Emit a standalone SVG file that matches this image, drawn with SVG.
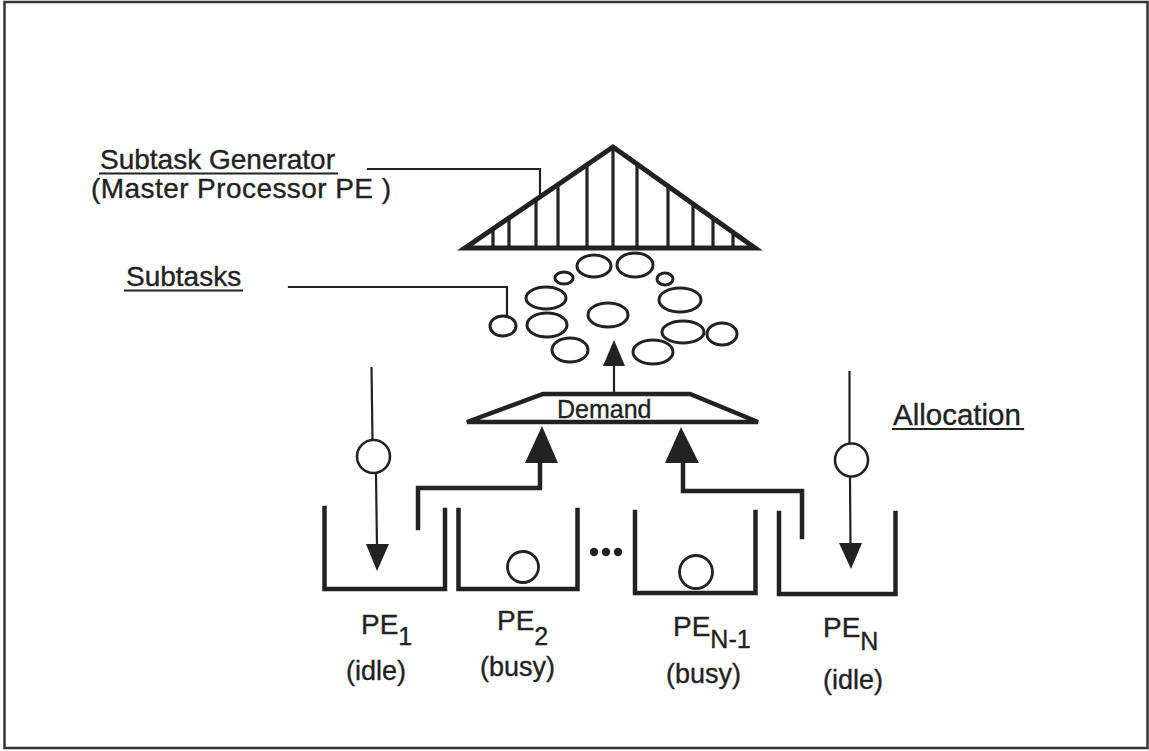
<svg xmlns="http://www.w3.org/2000/svg" width="1149" height="751" viewBox="0 0 1149 751">
<style>
  .t { font-family: "Liberation Sans", Arial, Helvetica, sans-serif; fill: #222; stroke: #222; stroke-width: 0.35; }
  .ln { stroke: #222; fill: none; stroke-linecap: square; }
  .thin { stroke-width: 2.2; }
  .med { stroke-width: 3.2; }
  .thick { stroke-width: 4.5; }
  .ell { stroke: #222; stroke-width: 3; fill: #fff; }
  .ah { fill: #222; stroke: none; }
  .sub { font-size: 25px; }
</style>
<rect x="0" y="0" width="1149" height="751" fill="#fff"/>
<g id="frame">
  <rect x="4.5" y="2" width="1143" height="746" fill="none" stroke="#333" stroke-width="2.5"/>
</g>

<g id="labels">
  <text class="t" x="100" y="169" font-size="28">Subtask Generator</text>
  <line class="ln thin" x1="100" y1="173.5" x2="337" y2="173.5" stroke-linecap="butt"/>
  <text class="t" x="91" y="198" font-size="28" textLength="300" lengthAdjust="spacing">(Master Processor PE )</text>
  <text class="t" x="126" y="286" font-size="28">Subtasks</text>
  <line class="ln thin" x1="125" y1="290.5" x2="242" y2="290.5" stroke-linecap="butt"/>
  <text class="t" x="893" y="425" font-size="29.5">Allocation</text>
  <line class="ln thin" x1="893" y1="429" x2="1023" y2="429" stroke-linecap="butt"/>
</g>

<g id="generator">
  <polygon points="613,147 465,248 755,248" fill="none" stroke="#222" stroke-width="5" stroke-linejoin="miter"/>
  <g class="ln med" stroke-linecap="butt">
    <line x1="493" y1="229" x2="493" y2="248"/>
    <line x1="509" y1="218" x2="509" y2="248"/>
    <line x1="536" y1="199" x2="536" y2="248"/>
    <line x1="558" y1="184" x2="558" y2="248"/>
    <line x1="587" y1="165" x2="587" y2="248"/>
    <line x1="613" y1="147" x2="613" y2="248"/>
    <line x1="637" y1="164" x2="637" y2="248"/>
    <line x1="668" y1="186" x2="668" y2="248"/>
    <line x1="693" y1="204" x2="693" y2="248"/>
    <line x1="713" y1="218" x2="713" y2="248"/>
    <line x1="733" y1="232" x2="733" y2="248"/>
  </g>
</g>

<g id="subtasks">
  <ellipse class="ell" cx="594" cy="266" rx="17" ry="11"/>
  <ellipse class="ell" cx="635" cy="265" rx="18" ry="12"/>
  <ellipse class="ell" cx="564" cy="278" rx="9" ry="6"/>
  <ellipse class="ell" cx="665" cy="279" rx="8" ry="6"/>
  <ellipse class="ell" cx="546" cy="298" rx="20" ry="11"/>
  <ellipse class="ell" cx="680" cy="300" rx="21" ry="12"/>
  <ellipse class="ell" cx="608" cy="315" rx="20" ry="12"/>
  <ellipse class="ell" cx="503" cy="326" rx="13" ry="10"/>
  <ellipse class="ell" cx="547" cy="325" rx="20" ry="12"/>
  <ellipse class="ell" cx="683" cy="332" rx="21" ry="11"/>
  <ellipse class="ell" cx="722" cy="334" rx="15" ry="11"/>
  <ellipse class="ell" cx="570" cy="350" rx="18" ry="12"/>
  <ellipse class="ell" cx="653" cy="352" rx="20" ry="12"/>
</g>

<g id="demand">
  <polygon points="543,394 690,394 758,422 467,422" fill="none" stroke="#222" stroke-width="4.5" stroke-linejoin="miter"/>
  <text class="t" x="557" y="418" font-size="25">Demand</text>
</g>

<g id="pe1">
  <polyline class="ln thick" points="324.5,508 324.5,589 445,589 445,510" stroke-linecap="butt"/>
  <text class="t" x="361" y="634" font-size="28">PE<tspan class="sub" dy="11">1</tspan></text>
  <text class="t" x="346" y="680" font-size="27">(idle)</text>
</g>

<g id="pe2">
  <polyline class="ln thick" points="458.5,510 458.5,589 577.5,589 577.5,510" stroke-linecap="butt"/>
  <circle cx="523" cy="567" r="15.5" fill="none" stroke="#222" stroke-width="2.8"/>
  <text class="t" x="497" y="630" font-size="28">PE<tspan class="sub" dy="15">2</tspan></text>
  <text class="t" x="480" y="676" font-size="27">(busy)</text>
</g>

<g id="dots">
  <circle cx="594" cy="552" r="4.2" fill="#222"/>
  <circle cx="606" cy="552" r="4.2" fill="#222"/>
  <circle cx="618" cy="552" r="4.2" fill="#222"/>
</g>

<g id="pen1">
  <polyline class="ln thick" points="635,512 635,593 755.5,593 755.5,512" stroke-linecap="butt"/>
  <circle cx="696" cy="572" r="16.5" fill="none" stroke="#222" stroke-width="2.8"/>
  <text class="t" x="673" y="636" font-size="28">PE<tspan class="sub" dy="12">N-1</tspan></text>
  <text class="t" x="666" y="683" font-size="27">(busy)</text>
</g>

<g id="pen">
  <polyline class="ln thick" points="779,513 779,594 895.5,594 895.5,513" stroke-linecap="butt"/>
  <text class="t" x="823" y="637" font-size="28">PE<tspan class="sub" dy="13">N</tspan></text>
  <text class="t" x="823" y="689" font-size="27">(idle)</text>
</g>

<g id="connectors">
  <polyline class="ln thin" points="368,169 540,169 540,194" stroke-linecap="butt"/>
  <polyline class="ln thin" points="289,287 507,287 507,316" stroke-linecap="butt"/>
  <line class="ln thin" x1="614" y1="392" x2="614" y2="364" stroke-linecap="butt"/>
  <polygon class="ah" points="614,340 603,366 625,366"/>
  <polyline class="ln thick" points="418,528 418,488 540,488 540,460" stroke-linecap="butt" stroke-linejoin="miter"/>
  <polygon class="ah" points="542,426 525,463 558,463"/>
  <polyline class="ln thick" points="802,537 802,491 683,491 683,460" stroke-linecap="butt" stroke-linejoin="miter"/>
  <polygon class="ah" points="681,427 665,463 699,463"/>
  <line class="ln thin" x1="371.5" y1="368" x2="372.5" y2="440" stroke-linecap="butt"/>
  <circle cx="373.5" cy="456.5" r="16.5" fill="none" stroke="#222" stroke-width="2.6"/>
  <line class="ln thin" x1="376" y1="473" x2="377" y2="548" stroke-linecap="butt"/>
  <polygon class="ah" points="377,571 366,544 389,544"/>
  <line class="ln thin" x1="849.5" y1="372" x2="849.5" y2="443" stroke-linecap="butt"/>
  <circle cx="851.5" cy="460" r="16.5" fill="none" stroke="#222" stroke-width="2.6"/>
  <line class="ln thin" x1="850" y1="477" x2="850.5" y2="546" stroke-linecap="butt"/>
  <polygon class="ah" points="851,569 839,543 862,543"/>
</g>
</svg>
